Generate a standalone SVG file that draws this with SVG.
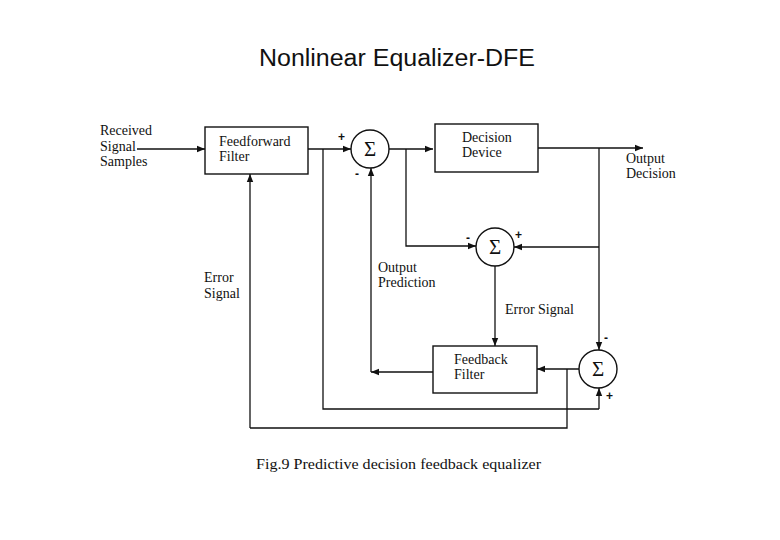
<svg xmlns="http://www.w3.org/2000/svg" width="780" height="540" viewBox="0 0 780 540">
<defs>
<marker id="ah" viewBox="0 0 10 10" refX="10" refY="5" markerWidth="8" markerHeight="8" markerUnits="userSpaceOnUse" orient="auto">
<path d="M0,1 L10,5 L0,9 z" fill="#111"/>
</marker>
<style>
.box{fill:#fff;stroke:#111;stroke-width:1.4}
.ln{fill:none;stroke:#111;stroke-width:1.3}
.ar{fill:none;stroke:#111;stroke-width:1.3;marker-end:url(#ah)}
.t{font-family:"Liberation Serif","Times New Roman",serif;font-size:14px;fill:#111}
.sg{font-family:"Liberation Serif","Times New Roman",serif;font-size:21px;fill:#111;text-anchor:middle}
.pm{font-family:"Liberation Sans",Arial,sans-serif;font-size:12px;font-weight:bold;fill:#111}
</style>
</defs>
<rect width="780" height="540" fill="#fff"/>
<text x="259" y="66" textLength="276" lengthAdjust="spacingAndGlyphs" font-family="Liberation Sans, Arial, sans-serif" font-size="23" fill="#111">Nonlinear Equalizer-DFE</text>

<g id="connectors">
<path class="ar" d="M137,149 H205"/>
<path class="ar" d="M308,149 H351"/>
<path class="ar" d="M389,149 H433"/>
<path class="ar" d="M538,148 H643"/>
<path class="ln" d="M323,149 V409 H599"/>
<path class="ar" d="M599,409 V388"/>
<path class="ar" d="M406,149 V246 H476"/>
<path class="ar" d="M599,148 V350"/>
<path class="ar" d="M599,247 H514"/>
<path class="ar" d="M495,266 V346"/>
<path class="ar" d="M433,372 H371"/>
<path class="ar" d="M371,372 V168"/>
<path class="ar" d="M579,369 H537"/>
<path class="ln" d="M567,369 V428 H250"/>
<path class="ar" d="M250,428 V174"/>
</g>

<g id="input-label">
<text class="t" x="100" y="135">Received</text>
<text class="t" x="100" y="151">Signal</text>
<text class="t" x="100" y="166">Samples</text>
</g>

<g id="feedforward-filter">
<rect class="box" x="205" y="127" width="103" height="47"/>
<text class="t" x="219" y="146">Feedforward</text>
<text class="t" x="219" y="161">Filter</text>
</g>

<g id="sum1">
<circle class="box" cx="370" cy="149" r="19"/>
<text class="sg" x="370" y="156">Σ</text>
<text class="pm" x="338" y="141">+</text>
<text class="pm" x="355" y="178">-</text>
</g>

<g id="decision-device">
<rect class="box" x="435" y="124" width="103" height="48"/>
<text class="t" x="462" y="142">Decision</text>
<text class="t" x="462" y="157">Device</text>
</g>

<g id="output-decision-label">
<text class="t" x="626" y="163">Output</text>
<text class="t" x="626" y="178">Decision</text>
</g>

<g id="sum2">
<circle class="box" cx="495" cy="247" r="19"/>
<text class="sg" x="495" y="254">Σ</text>
<text class="pm" x="466" y="242">-</text>
<text class="pm" x="515" y="239">+</text>
</g>

<g id="output-prediction-label">
<text class="t" x="378" y="272">Output</text>
<text class="t" x="378" y="287">Prediction</text>
</g>

<g id="error-signal-label-left">
<text class="t" x="204" y="282">Error</text>
<text class="t" x="204" y="298">Signal</text>
</g>

<g id="error-signal-label-mid">
<text class="t" x="505" y="314">Error Signal</text>
</g>

<g id="feedback-filter">
<rect class="box" x="433" y="346" width="104" height="47"/>
<text class="t" x="454" y="364">Feedback</text>
<text class="t" x="454" y="379">Filter</text>
</g>

<g id="sum3">
<circle class="box" cx="598" cy="369" r="19"/>
<text class="sg" x="598" y="376">Σ</text>
<text class="pm" x="604" y="342">-</text>
<text class="pm" x="606" y="400">+</text>
</g>

<text x="256" y="469" textLength="285" lengthAdjust="spacingAndGlyphs" font-family="Liberation Serif, Times New Roman, serif" font-size="15" fill="#111">Fig.9 Predictive decision feedback equalizer</text>
</svg>
